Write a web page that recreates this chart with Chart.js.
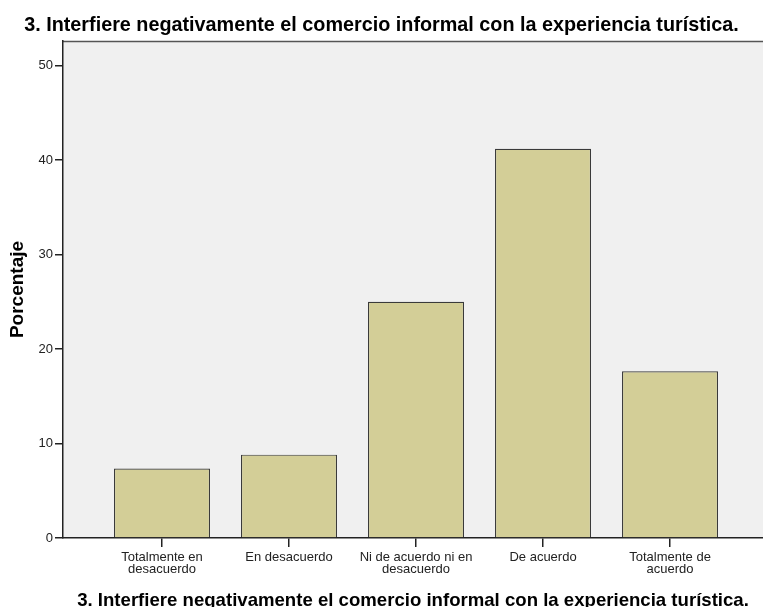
<!DOCTYPE html>
<html>
<head>
<meta charset="utf-8">
<script src="https://cdn.jsdelivr.net/npm/chart.js@4"></script>
<style>
html,body{margin:0;padding:0;background:#fff;}
#wrap{width:763px;height:607px;}
</style>
</head>
<body>
<div id="wrap"><canvas id="c" width="763" height="607"></canvas></div>
<script>
const chartTitle = "3. Interfiere negativamente el comercio informal con la experiencia turística.";
const categories = [
  ["Totalmente en", "desacuerdo"],
  ["En desacuerdo"],
  ["Ni de acuerdo ni en", "desacuerdo"],
  ["De acuerdo"],
  ["Totalmente de", "acuerdo"]
];
const percentages = [7.35, 8.82, 25.0, 41.18, 17.65];
const yTicks = [0, 10, 20, 30, 40, 50];
const yAxisTitle = "Porcentaje";
const xAxisTitle = "3. Interfiere negativamente el comercio informal con la experiencia turística.";

const points = percentages.map((v, i) => ({x: i, y: v}));
const FONT = 'Liberation Sans, Arial, sans-serif';

const bgPlugin = {
  id: 'bg',
  beforeDraw(chart) {
    const {ctx, chartArea: a} = chart;
    ctx.save();
    ctx.fillStyle = '#F0F0F0';
    ctx.fillRect(a.left, a.top, a.right - a.left, a.bottom - a.top);
    ctx.strokeStyle = '#555';
    ctx.lineWidth = 1.5;
    ctx.beginPath();
    ctx.moveTo(a.left, a.top + 0.5);
    ctx.lineTo(a.right, a.top + 0.5);
    ctx.stroke();
    ctx.restore();
  }
};

new Chart(document.getElementById('c'), {
  type: 'bar',
  data: {
    datasets: [{
      data: points,
      backgroundColor: '#D3CE97',
      borderColor: '#3a3a3a',
      borderWidth: 1.2,
      categoryPercentage: 1,
      barPercentage: 0.756
    }]
  },
  plugins: [bgPlugin],
  options: {
    responsive: false,
    animation: false,
    devicePixelRatio: 1,
    layout: {padding: {left: 0, right: 0, top: 0, bottom: 0}},
    plugins: {
      legend: {display: false},
      tooltip: {enabled: false},
      title: {
        display: true,
        text: chartTitle,
        color: '#000',
        font: {family: FONT, size: 19.8, weight: 'bold', lineHeight: 1.2},
        padding: {top: 13.5, bottom: 3.7}
      }
    },
    scales: {
      x: {
        type: 'linear',
        min: -0.7795,
        max: 4.732,
        offset: false,
        afterBuildTicks(scale) {
          scale.ticks = categories.map((c, i) => ({value: i}));
        },
        afterFit(scale) { scale.height = 69; },
        ticks: {
          autoSkip: false,
          maxRotation: 0,
          color: '#222',
          padding: 4,
          font: {family: FONT, size: 13, lineHeight: 0.95},
          callback: (v) => categories[v] || ''
        },
        grid: {offset: false, drawOnChartArea: false, drawTicks: true, tickLength: 9, color: '#222', lineWidth: 1.5},
        border: {display: true, color: '#222', width: 1.5},
        title: {
          display: true,
          text: xAxisTitle,
          color: '#000',
          padding: {top: 0, bottom: -3.5},
          font: {family: FONT, size: 18.6, weight: 'bold', lineHeight: 1}
        }
      },
      y: {
        type: 'linear',
        min: 0,
        max: 52.6,
        afterBuildTicks(scale) {
          scale.ticks = yTicks.map(v => ({value: v}));
        },
        afterFit(scale) { scale.width = 63; },
        ticks: {
          color: '#222',
          padding: 2,
          font: {family: FONT, size: 13}
        },
        grid: {drawOnChartArea: false, drawTicks: true, tickLength: 8, color: '#222', lineWidth: 1.5},
        border: {display: true, color: '#222', width: 1.5},
        title: {
          display: true,
          text: yAxisTitle,
          color: '#000',
          padding: {top: 6, bottom: 0},
          font: {family: FONT, size: 19, weight: 'bold', lineHeight: 1.2}
        }
      }
    }
  }
});
</script>
</body>
</html>
